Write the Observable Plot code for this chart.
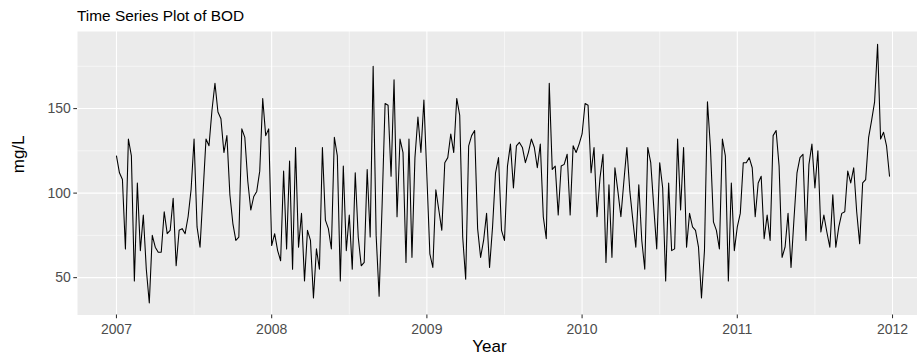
<!DOCTYPE html>
<html>
<head>
<meta charset="utf-8">
<script src="https://cdn.jsdelivr.net/npm/d3@7"></script>
<script src="https://cdn.jsdelivr.net/npm/@observablehq/plot@0.6"></script>
<style>
  html, body { margin: 0; padding: 0; background: #ffffff; }
  #wrap { width: 917px; height: 358px; overflow: hidden; font-family: "Liberation Sans", Arial, sans-serif; }
  #title { height: 31px; line-height: 31px; padding-left: 77px; font-size: 15.4px; color: #000; white-space: nowrap; }
</style>
</head>
<body>
<div id="wrap">
  <div id="title">Time Series Plot of BOD</div>
  <div id="chart"></div>
</div>
<script>
// Weekly BOD (mg/L), ts(start = 2007, frequency = 52)
const years = [2007, 2008, 2009, 2010, 2011];
const bod2007 = [122,112,108,67,132,122,48,106,66,87,55,35,75,68,65,65,89,76,78,97,57,78,79,76,86,102,132,80,68,100,132,128,149,165,148,144,124,134,99,82,72,74,138,133,107,90,98,101,113,156,134,138];
const bod2008 = [69,76,66,60,113,67,119,55,127,68,88,48,78,72,38,67,55,127,84,79,67,133,122,48,116,66,87,55,112,74,57,59,114,74,175,75,39,93,153,152,110,167,86,132,124,59,132,62,121,145,124,155];
const bod2009 = [110,64,56,102,90,78,118,121,135,124,156,146,74,49,128,134,137,79,62,72,88,56,80,112,121,78,72,116,129,103,128,130,127,118,124,132,127,115,129,86,73,165,114,116,87,116,117,123,87,128,124,129];
const bod2010 = [135,153,152,112,127,86,109,123,59,105,62,115,101,86,107,127,101,84,68,105,72,55,127,118,92,67,118,103,48,106,66,67,132,90,127,68,88,80,78,68,38,66,154,127,83,78,67,132,122,48,106,66];
const bod2011 = [80,88,118,118,121,115,86,106,110,73,87,72,134,137,116,62,68,88,56,85,112,121,123,72,117,129,103,125,77,87,77,68,99,68,80,88,89,113,106,115,89,70,106,108,133,143,154,188,132,136,128,110];
const series = [bod2007, bod2008, bod2009, bod2010, bod2011];
const freq = 52;

const xTicks = [2007, 2008, 2009, 2010, 2011, 2012];
const xMinor = [2007.5, 2008.5, 2009.5, 2010.5, 2011.5];
const yTicks = [50, 100, 150];
const yMinor = [75, 125, 175];

const data = years.flatMap((yr, k) => series[k].map((v, j) => ({t: yr + j / freq, v})));

const font = '"Liberation Sans", Arial, sans-serif';

const chart = Plot.plot({
  width: 917,
  height: 327,
  marginLeft: 77,
  marginRight: 0,
  marginTop: 0,
  marginBottom: 43.5,
  style: {fontFamily: font, background: "#ffffff", overflow: "visible"},
  x: {domain: [2006.749, 2012.161]},
  y: {domain: [27.9, 195.6]},
  marks: [
    Plot.frame({fill: "#EBEBEB", stroke: null}),
    Plot.ruleX(xMinor, {stroke: "#ffffff", strokeWidth: 0.53}),
    Plot.ruleY(yMinor, {stroke: "#ffffff", strokeWidth: 0.53}),
    Plot.ruleX(xTicks, {stroke: "#ffffff", strokeWidth: 1.07}),
    Plot.ruleY(yTicks, {stroke: "#ffffff", strokeWidth: 1.07}),
    Plot.line(data, {x: "t", y: "v", stroke: "#000000", strokeWidth: 1.07}),
    Plot.axisX(xTicks, {tickSize: 3.7, tickPadding: 5, tickFormat: d => String(d), fontSize: 14, color: "#4D4D4D", stroke: "#333333", strokeWidth: 1.07, label: null}),
    Plot.axisY(yTicks, {tickSize: 3.7, tickPadding: 2.9, tickFormat: d => String(d), fontSize: 14, color: "#4D4D4D", stroke: "#333333", strokeWidth: 1.07, label: null}),
    Plot.text(["Year"], {text: d => d, frameAnchor: "bottom", dx: -8, dy: 37, fontSize: 17, fill: "#000000"}),
    Plot.text(["mg/L"], {text: d => d, frameAnchor: "left", dx: -59, dy: 0, rotate: -90, fontSize: 17, fill: "#000000"})
  ]
});
document.getElementById("chart").appendChild(chart);
</script>
</body>
</html>
